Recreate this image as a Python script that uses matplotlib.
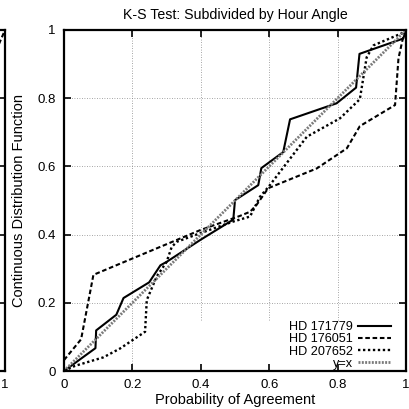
import numpy as np
import matplotlib
matplotlib.use("Agg")
import matplotlib.pyplot as plt

plt.rcParams['font.family'] = ['Liberation Sans', 'DejaVu Sans']
plt.rcParams['font.size'] = 9.5

# ---------------------------------------------------------------------------
# Data (cumulative distributions)
# ---------------------------------------------------------------------------
hd171779_x = [0, 0.092, 0.094, 0.153, 0.174, 0.249, 0.282, 0.300, 0.398, 0.495,
              0.500, 0.568, 0.577, 0.641, 0.661, 0.797, 0.854, 0.864, 0.992, 1.0]
hd171779_y = [0, 0.067, 0.119, 0.165, 0.214, 0.260, 0.310, 0.320, 0.384, 0.444,
              0.501, 0.545, 0.595, 0.642, 0.738, 0.785, 0.831, 0.930, 0.975, 1.0]

hd176051_x = [0, 0.050, 0.086, 0.398, 0.515, 0.544, 0.563, 0.597, 0.739, 0.827,
              0.865, 0.968, 0.978, 0.993, 1.0]
hd176051_y = [0.032, 0.093, 0.282, 0.413, 0.455, 0.467, 0.487, 0.536, 0.594, 0.653,
              0.718, 0.780, 0.917, 0.985, 1.0]

hd207652_x = [0, 0.032, 0.115, 0.164, 0.237, 0.242, 0.271, 0.300, 0.315, 0.330,
              0.398, 0.494, 0.544, 0.573, 0.598, 0.710, 0.807, 0.865, 0.885, 0.905,
              0.987, 1.0]
hd207652_y = [0, 0.015, 0.040, 0.066, 0.115, 0.208, 0.277, 0.320, 0.364, 0.379,
              0.404, 0.438, 0.453, 0.511, 0.540, 0.687, 0.741, 0.797, 0.920, 0.955,
              0.990, 1.0]

diag = [0, 1]

# tail of the neighbouring panel that peeks in at the left edge
left_dash_x = [0.90, 0.97, 1.0]
left_dash_y = [0.80, 0.93, 1.0]

ticks = [0, 0.2, 0.4, 0.6, 0.8, 1]
tick_labels = ['0', '0.2', '0.4', '0.6', '0.8', '1']

DASHED = (0, (2.2, 1.3))
DOTTED = (0, (1, 1.1))

# ---------------------------------------------------------------------------
W, H = 409, 409
fig = plt.figure(figsize=(W / 100, H / 100), dpi=100)

x0, x1, y0, y1 = 64 / W, 406 / W, 1 - 371 / H, 1 - 30 / H
ax = fig.add_axes([x0, y0, x1 - x0, y1 - y0])

# neighbouring panel, mostly off-figure
axl = fig.add_axes([5 / W - (x1 - x0), y0, x1 - x0, y1 - y0])
axl.plot(left_dash_x, left_dash_y, color='black', lw=1.5, ls=DASHED)


def style_axes(a):
    a.set_xlim(0, 1)
    a.set_ylim(0, 1)
    a.set_xticks(ticks)
    a.set_yticks(ticks)
    a.set_xticklabels(tick_labels)
    a.set_yticklabels(tick_labels)
    a.tick_params(direction='in', length=5, width=1.2, top=True, right=True,
                  labelsize=9.5, pad=6)
    for s in a.spines.values():
        s.set_linewidth(1.6)


style_axes(axl)
axl.set_yticklabels([])

style_axes(ax)

# gnuplot-style grid, the key area at the bottom keeps it off
for g in ticks[1:-1]:
    ax.axhline(g, color='#888888', lw=0.6, ls=(0, (1, 2)), zorder=0)
    ax.axvline(g, ymin=0 if g < 0.3 else 0.15, color='#888888', lw=0.6,
               ls=(0, (1, 2)), zorder=0)

ax.plot(hd171779_x, hd171779_y, color='black', lw=1.5, label='HD 171779')
ax.plot(hd176051_x, hd176051_y, color='black', lw=1.5, ls=DASHED,
        label='HD 176051')
ax.plot(hd207652_x, hd207652_y, color='black', lw=1.7, ls=DOTTED,
        label='HD 207652')
ax.plot(diag, diag, color='#7a7a7a', lw=2.0, ls=(0, (0.7, 0.5)), label='y=x')

ax.set_title('K-S Test: Subdivided by Hour Angle', fontsize=10.2, pad=8)
ax.set_xlabel('Probability of Agreement', fontsize=10.5, labelpad=1)
ax.set_ylabel('Continuous Distribution Function', fontsize=10.5)
ax.yaxis.set_label_coords(-0.112, 0.5)

leg = ax.legend(loc='lower right', markerfirst=False, frameon=False,
                handlelength=2.6, handletextpad=0.4, labelspacing=0.02,
                borderaxespad=0.1, fontsize=9.1, bbox_to_anchor=(0.975, -0.015))
for t in leg.get_texts():
    t.set_ha('right')

fig.savefig('out.png', dpi=100)
